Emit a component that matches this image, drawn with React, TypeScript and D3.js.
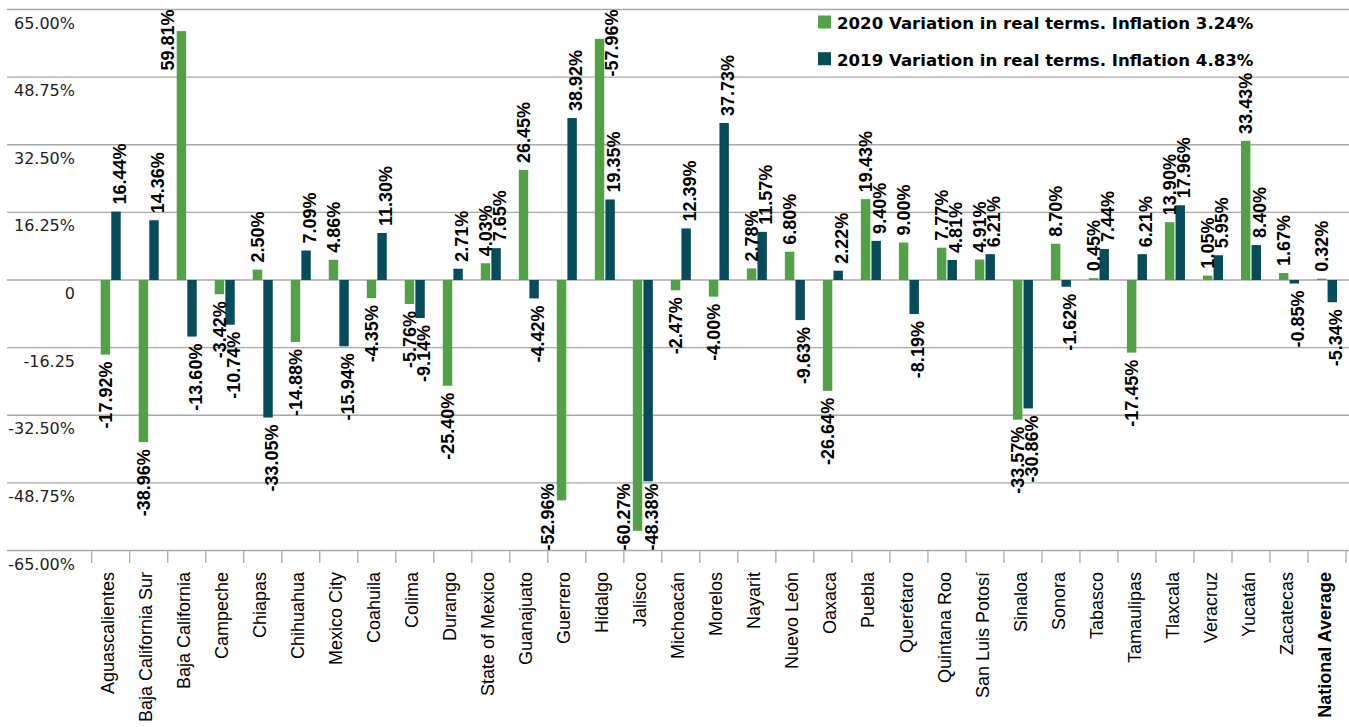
import React from "react";
import * as d3 from "d3";

const categories = [
  "Aguascalientes", "Baja California Sur", "Baja California", "Campeche", "Chiapas",
  "Chihuahua", "Mexico City", "Coahuila", "Colima", "Durango", "State of Mexico",
  "Guanajuato", "Guerrero", "Hidalgo", "Jalisco", "Michoacán", "Morelos", "Nayarit",
  "Nuevo León", "Oaxaca", "Puebla", "Querétaro", "Quintana Roo", "San Luis Potosí",
  "Sinaloa", "Sonora", "Tabasco", "Tamaulipas", "Tlaxcala", "Veracruz", "Yucatán",
  "Zacatecas", "National Average",
];

const values2020 = [
  -17.92, -38.96, 59.81, -3.42, 2.5, -14.88, 4.86, -4.35, -5.76, -25.4, 4.03,
  26.45, -52.96, 57.96, -60.27, -2.47, -4.0, 2.78, 6.8, -26.64, 19.43, 9.0,
  7.77, 4.91, -33.57, 8.7, 0.45, -17.45, 13.9, 1.05, 33.43, 1.67, 0.32,
];

const values2019 = [
  16.44, 14.36, -13.6, -10.74, -33.05, 7.09, -15.94, 11.3, -9.14, 2.71, 7.65,
  -4.42, 38.92, 19.35, -48.38, 12.39, 37.73, 11.57, -9.63, 2.22, 9.4, -8.19,
  4.81, 6.21, -30.86, -1.62, 7.44, 6.21, 17.96, 5.95, 8.4, -0.85, -5.34,
];

// label text as printed in the source (Hidalgo 2020 is printed with a minus sign)
const labelOverrides2020: Record<string, string> = { Hidalgo: "-57.96%" };

const yTicks = [65, 48.75, 32.5, 16.25, 0, -16.25, -32.5, -48.75, -65];
const yTickLabels = ["65.00%", "48.75%", "32.50%", "16.25%", "0", "-16.25", "-32.50%", "-48.75%", "-65.00%"];

const seriesNames = [
  "2020 Variation in real terms. Inflation 3.24%",
  "2019 Variation in real terms. Inflation 4.83%",
];
const colors = ["#52a147", "#064c5b"];

const W = 1349;
const H = 727;
const PLOT_TOP = 9.5;
const PLOT_BOTTOM = 550.5;
const FONT = "'Liberation Sans', Arial, sans-serif";
const WIDE_FONT = "'DejaVu Sans', sans-serif";

const charW: Record<string, number> = { "-": 0.333, ".": 0.278, "%": 0.889 };
function estLen(t: string, size: number) {
  let s = 0;
  for (const c of t) s += charW[c] ?? 0.556;
  return s * size;
}

export default function App() {
  const x = d3.scaleBand<string>().domain(categories).range([91.7, 1346]).padding(0);
  const y = d3.scaleLinear().domain([-65, 65]).range([PLOT_BOTTOM, PLOT_TOP]);
  const sub = d3.scaleBand<string>().domain(["2020", "2019"]).range([-10, 10]).paddingInner(0.11);
  const fmt = (v: number) => d3.format(".2f")(v).replace("\u2212", "-");
  const series = [values2020, values2019];
  const keys = ["2020", "2019"];

  type Lab = { x: number; yA: number; anchor: "start" | "end"; text: string; box: [number, number, number, number] };
  const labels: Lab[] = [];
  const LABEL_SIZE = 18;
  const GAP = 7;

  categories.forEach((cat, i) => {
    const cx = (x(cat) as number) + x.bandwidth() / 2;
    series.forEach((vals, s) => {
      const v = vals[i];
      const text = s === 0 && labelOverrides2020[cat] ? labelOverrides2020[cat] : fmt(v) + "%";
      const bx = cx + (sub(keys[s]) as number) + sub.bandwidth() / 2;
      const L = estLen(text, LABEL_SIZE);
      let lx = bx + (s === 1 ? 3.5 : 0);
      let top: number, bottom: number, anchor: "start" | "end", yA: number;
      let overlap = false;
      if (v >= 0) {
        bottom = y(v) - GAP;
        top = bottom - L;
        anchor = "start";
        yA = bottom;
        if (top < PLOT_TOP) {
          top = PLOT_TOP;
          bottom = top + L;
          anchor = "end";
          yA = top;
          if (bottom > y(v) + 8) overlap = true;
        }
      } else {
        top = y(v) + GAP;
        bottom = top + L;
        anchor = "end";
        yA = top;
        if (bottom > PLOT_BOTTOM) {
          bottom = PLOT_BOTTOM;
          top = bottom - L;
          anchor = "start";
          yA = bottom;
          if (top < y(v) - 8) overlap = true;
        }
      }
      if (overlap) {
        const dir = s === 0 ? -1 : 1;
        const tryX = bx + dir * 14;
        const collides = labels.some(
          (o) => Math.abs(o.x - tryX) < 13 && !(bottom < o.box[1] || top > o.box[3])
        );
        lx = collides ? bx - dir * 12 : tryX;
      }
      labels.push({ x: lx, yA, anchor, text, box: [lx - 7, top, lx + 7, bottom] });
    });
  });

  const boundaries = [...categories.map((c) => x(c) as number), 1346];

  return (
    <svg
      width={W}
      height={H}
      style={{ position: "absolute", left: 0, top: 0, background: "#fff" }}
      fontFamily={FONT}
    >
      {/* gridlines */}
      {yTicks.map((t, i) => (
        <line key={"g" + i} x1={7} x2={W} y1={y(t)} y2={y(t)} stroke="#a8a8a8" strokeWidth={1.3} />
      ))}
      {/* y tick labels */}
      {yTicks.map((t, i) => (
        <text key={"yl" + i} x={75} y={y(t) + 19} textAnchor="end" fontSize={16} fontFamily={WIDE_FONT} fill="#1e1e1e">
          {yTickLabels[i]}
        </text>
      ))}
      {/* x ticks */}
      {boundaries.map((bx, i) => (
        <line key={"xt" + i} x1={bx} x2={bx} y1={PLOT_BOTTOM} y2={563} stroke="#a8a8a8" strokeWidth={1.3} />
      ))}
      {/* bars */}
      {categories.map((cat, i) => (
        <g key={"b" + i} transform={`translate(${(x(cat) as number) + x.bandwidth() / 2},0)`}>
          {series.map((vals, s) => (
            <rect
              key={s}
              x={sub(keys[s]) as number}
              width={sub.bandwidth()}
              y={Math.min(y(vals[i]), y(0))}
              height={Math.abs(y(vals[i]) - y(0))}
              fill={colors[s]}
            />
          ))}
        </g>
      ))}
      {/* data labels */}
      {labels.map((l, i) => (
        <text
          key={"dl" + i}
          transform={`translate(${l.x},${l.yA}) rotate(-90)`}
          textAnchor={l.anchor}
          dy="0.35em"
          fontSize={LABEL_SIZE}
          fontWeight="bold"
          fill="#000"
        >
          {l.text}
        </text>
      ))}
      {/* category labels */}
      {categories.map((cat, i) => (
        <text
          key={"cl" + i}
          transform={`translate(${(x(cat) as number) + x.bandwidth() / 2},572) rotate(-90)`}
          textAnchor="end"
          dy="0.2em"
          fontSize={18}
          fontWeight={cat === "National Average" ? "bold" : "normal"}
          fill="#000"
        >
          {cat}
        </text>
      ))}
      {/* legend */}
      {seriesNames.map((n, i) => (
        <g key={"lg" + i} transform={`translate(818,${15.5 + i * 36.7})`}>
          <rect x={0} y={0} width={13} height={13} fill={colors[i]} />
          <text x={19} y={13.5} fontSize={16.6} fontFamily={WIDE_FONT} fontWeight="bold" fill="#000">
            {n}
          </text>
        </g>
      ))}
    </svg>
  );
}
